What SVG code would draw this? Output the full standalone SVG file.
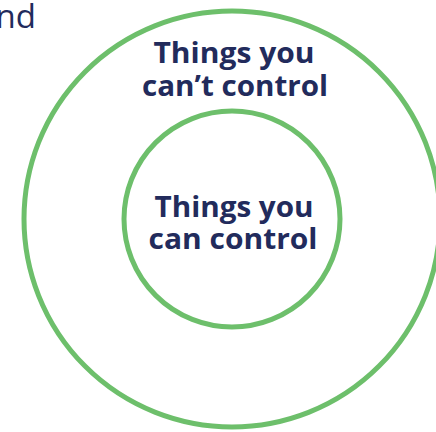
<svg xmlns="http://www.w3.org/2000/svg" width="436" height="432" viewBox="0 0 436 432">
<style>
.ring{fill:none;stroke:#6dbf6b;stroke-width:5}
.lbl{font-family:"Open Sans","Noto Sans",sans-serif;font-weight:700;font-size:28px;fill:#222b5c;text-anchor:middle}
.frag{font-family:"Open Sans","Noto Sans",sans-serif;font-weight:400;font-size:33px;fill:#222b5c;text-anchor:end}
</style>
<rect width="436" height="432" fill="#ffffff"/>
<text class="frag" x="36" y="28">nd</text>
<g id="outer">
<circle class="ring" cx="232" cy="219" r="208"/>
<text class="lbl" x="234" y="63" textLength="161" lengthAdjust="spacingAndGlyphs">Things you</text>
<text class="lbl" x="235" y="96" textLength="186" lengthAdjust="spacingAndGlyphs">can’t control</text>
</g>
<g id="inner">
<circle class="ring" cx="232" cy="219" r="108"/>
<text class="lbl" x="234" y="217" textLength="159" lengthAdjust="spacingAndGlyphs">Things you</text>
<text class="lbl" x="233" y="249" textLength="169" lengthAdjust="spacingAndGlyphs">can control</text>
</g>
<g id="connectors"/>
</svg>
